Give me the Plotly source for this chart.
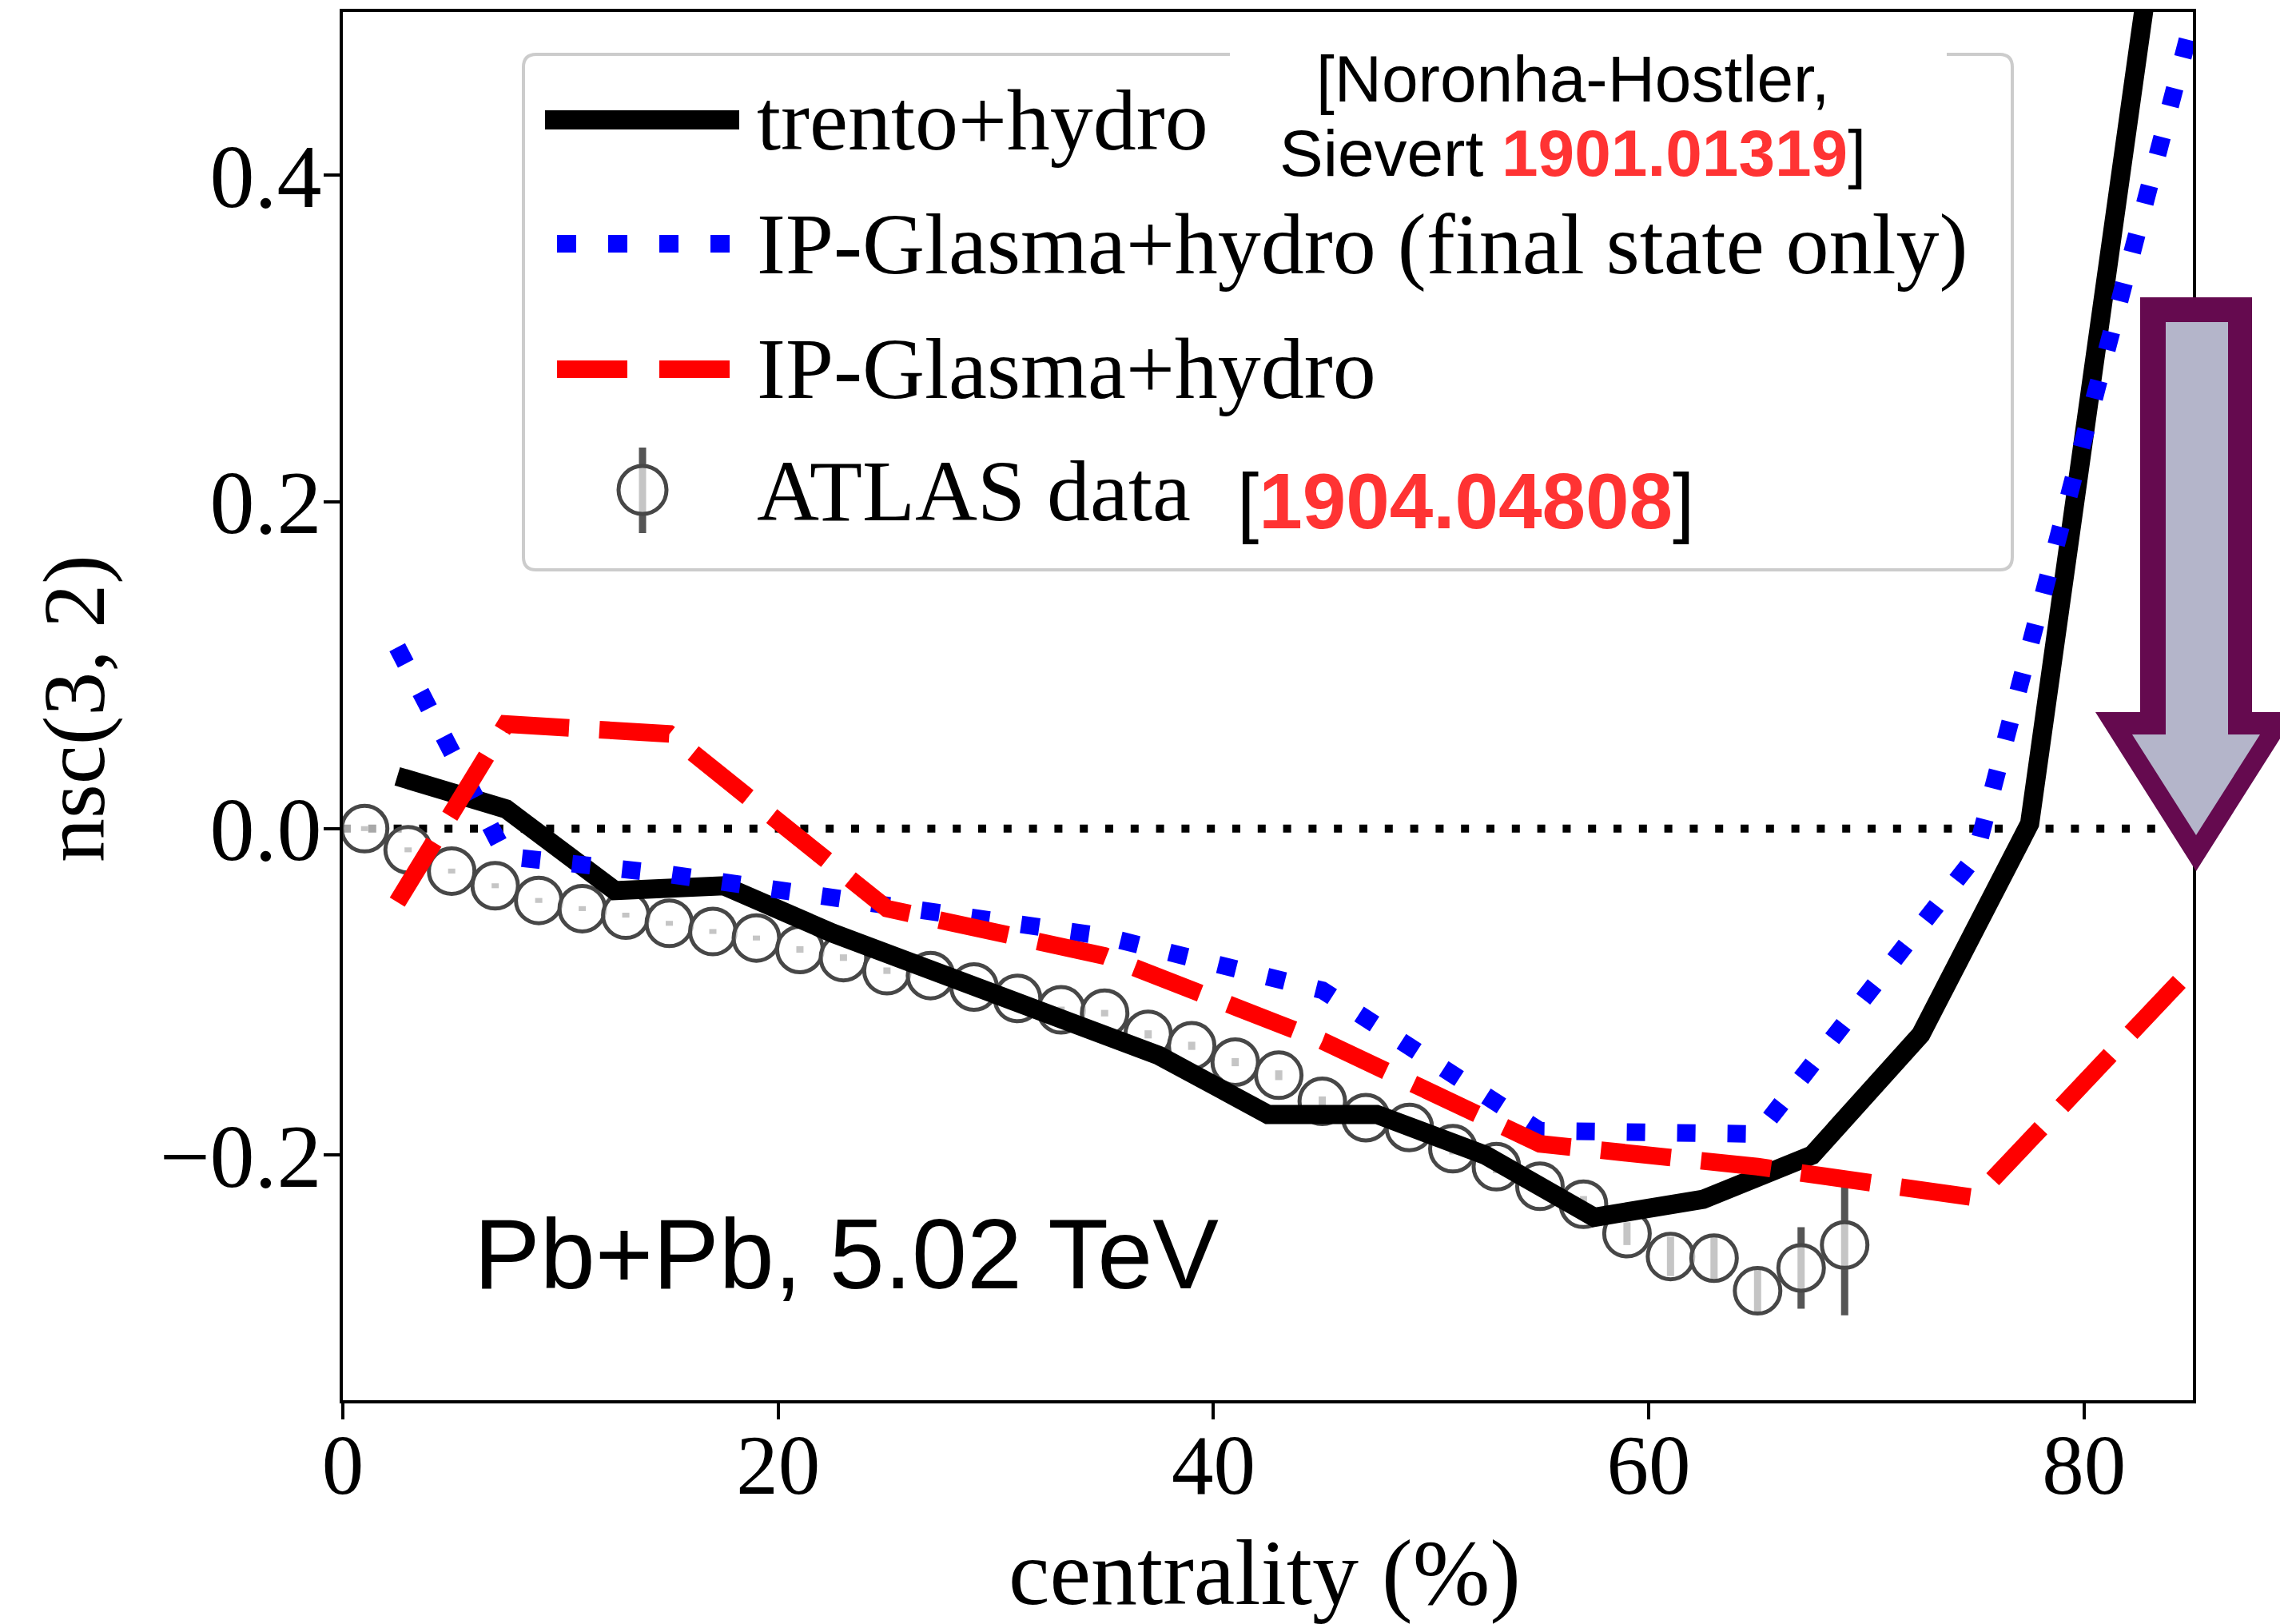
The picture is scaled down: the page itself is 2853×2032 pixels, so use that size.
import plotly.graph_objects as go

# ---------------------------------------------------------------------------
# Data: normalized symmetric cumulant nsc(3,2) vs centrality, Pb+Pb 5.02 TeV
# ---------------------------------------------------------------------------
atlas_cent = [1, 3, 5, 7, 9, 11, 13, 15, 17, 19, 21, 23, 25, 27, 29, 31, 33, 35,
              37, 39, 41, 43, 45, 47, 49, 51, 53, 55, 57, 59, 61, 63, 65, 67, 69]
atlas_nsc = [0.000, -0.013, -0.026, -0.035, -0.044, -0.049, -0.053, -0.058, -0.063,
             -0.067, -0.074, -0.079, -0.087, -0.090, -0.097, -0.104, -0.111, -0.113,
             -0.126, -0.133, -0.143, -0.151, -0.167, -0.177, -0.183, -0.196, -0.207,
             -0.219, -0.230, -0.248, -0.262, -0.263, -0.283, -0.269, -0.255]
atlas_err = [0.0015, 0.0015, 0.0015, 0.0015, 0.0015, 0.0015, 0.0015, 0.0015, 0.0015,
             0.0015, 0.002, 0.002, 0.002, 0.002, 0.002, 0.002, 0.002, 0.002,
             0.0025, 0.0025, 0.0025, 0.003, 0.003, 0.003, 0.003, 0.0035, 0.004,
             0.004, 0.005, 0.007, 0.012, 0.013, 0.014, 0.025, 0.043]

trento_cent = [2.5, 7.5, 12.5, 17.5, 22.5, 27.5, 32.5, 37.5, 42.5, 47.5, 52.5,
               57.5, 62.5, 67.5, 72.5, 77.5, 82.5, 87.5]
trento_nsc = [0.032, 0.012, -0.038, -0.035, -0.064, -0.090, -0.114, -0.139, -0.175,
              -0.175, -0.200, -0.238, -0.227, -0.200, -0.126, 0.003, 0.478, 0.95]

ipg_cent = [2.5, 7.5, 15, 25, 35, 45, 55, 65, 75, 85]
ipg_fs_nsc = [0.111, -0.017, -0.028, -0.047, -0.066, -0.099, -0.185, -0.187, -0.017, 0.496]
ipg_nsc = [-0.045, 0.064, 0.058, -0.049, -0.078, -0.130, -0.193, -0.207, -0.226, -0.085]

x_ticks = [0, 20, 40, 60, 80]
y_ticks = [-0.2, 0.0, 0.2, 0.4]
x_range = [0, 85]
y_range = [-0.35, 0.5]

# ---------------------------------------------------------------------------
# Figure geometry (pixels) and helpers to place decorations in paper coords
# ---------------------------------------------------------------------------
W, H = 2853, 2032
ML, MR, MT, MB = 429, 109, 15, 280
PW = W - ML - MR
PH = H - MT - MB

SERIF = "Liberation Serif"
SANS = "Liberation Sans"
RED_TXT = "#FF3333"


def px(x):
    return (x - ML) / PW


def py(y):
    return (H - MB - y) / PH


def poly_path(points):
    parts = [("M" if i == 0 else "L") + f"{px(x):.5f},{py(y):.5f}"
             for i, (x, y) in enumerate(points)]
    return " ".join(parts) + " Z"


def rounded_rect_path(x0, y0, x1, y1, r):
    def p(x, y):
        return f"{px(x):.5f},{py(y):.5f}"
    return (f"M{p(x0 + r, y0)} L{p(x1 - r, y0)} Q{p(x1, y0)} {p(x1, y0 + r)} "
            f"L{p(x1, y1 - r)} Q{p(x1, y1)} {p(x1 - r, y1)} "
            f"L{p(x0 + r, y1)} Q{p(x0, y1)} {p(x0, y1 - r)} "
            f"L{p(x0, y0 + r)} Q{p(x0, y0)} {p(x0 + r, y0)} Z")


fig = go.Figure()

# ATLAS points: open circles with vertical error bars
fig.add_trace(go.Scatter(
    x=atlas_cent, y=atlas_nsc, mode="markers", name="ATLAS data",
    marker=dict(symbol="circle", size=57, color="rgba(255,255,255,0.66)",
                line=dict(color="#474747", width=5)),
    error_y=dict(type="data", array=atlas_err, color="#555555", thickness=9, width=0),
))

# model curves
fig.add_trace(go.Scatter(
    x=trento_cent, y=trento_nsc, mode="lines", name="trento+hydro",
    line=dict(color="black", width=24),
))
fig.add_trace(go.Scatter(
    x=ipg_cent, y=ipg_fs_nsc, mode="lines", name="IP-Glasma+hydro (final state only)",
    line=dict(color="#0000FF", width=22, dash="23px,40px"),
))
fig.add_trace(go.Scatter(
    x=ipg_cent, y=ipg_nsc, mode="lines", name="IP-Glasma+hydro",
    line=dict(color="#FF0000", width=22, dash="88px,38px"),
))

shapes = []
# dotted zero reference line
shapes.append(dict(type="line", xref="paper", yref="y", x0=0, x1=1, y0=0, y1=0,
                   layer="below", line=dict(color="black", width=10, dash="10px,21.8px")))

# legend frame
shapes.append(dict(type="path", xref="paper", yref="paper",
                   path=rounded_rect_path(655, 68, 2518, 713, 16),
                   fillcolor="rgba(255,255,255,0.8)", line=dict(color="#cccccc", width=4)))
# white patch behind the citation text
shapes.append(dict(type="rect", xref="paper", yref="paper",
                   x0=px(1539), x1=px(2436), y0=py(95), y1=py(40),
                   fillcolor="white", line=dict(width=0)))

# legend line samples
shapes.append(dict(type="line", xref="paper", yref="paper",
                   x0=px(682), x1=px(925), y0=py(150), y1=py(150),
                   line=dict(color="black", width=24)))
shapes.append(dict(type="line", xref="paper", yref="paper",
                   x0=px(697), x1=px(913), y0=py(305), y1=py(305),
                   line=dict(color="#0000FF", width=22, dash="24px,40px")))
shapes.append(dict(type="line", xref="paper", yref="paper",
                   x0=px(697), x1=px(913), y0=py(462), y1=py(462),
                   line=dict(color="#FF0000", width=22, dash="88px,40px")))
# legend marker sample
shapes.append(dict(type="line", xref="paper", yref="paper",
                   x0=px(804), x1=px(804), y0=py(560), y1=py(667),
                   line=dict(color="#555555", width=9)))
shapes.append(dict(type="circle", xref="paper", yref="paper",
                   x0=px(774), x1=px(834), y0=py(643), y1=py(583),
                   fillcolor="rgba(255,255,255,0.66)", line=dict(color="#474747", width=5)))

# downward arrow at the right edge
arrow_outer = [(2678, 372), (2818, 372), (2818, 891), (2874, 891),
               (2748, 1090), (2622, 891), (2678, 891)]
arrow_inner = [(2710, 403), (2788, 403), (2788, 919), (2828, 919),
               (2748, 1045), (2668, 919), (2710, 919)]
shapes.append(dict(type="path", xref="paper", yref="paper", path=poly_path(arrow_outer),
                   fillcolor="#650A4F", line=dict(width=0)))
shapes.append(dict(type="path", xref="paper", yref="paper", path=poly_path(arrow_inner),
                   fillcolor="#B4B5CA", line=dict(width=0)))

annotations = []


def add_text(text, x, y, size, family, xanchor="left", angle=0, color="black"):
    annotations.append(dict(
        text=text, x=px(x), y=py(y), xref="paper", yref="paper",
        xanchor=xanchor, yanchor="middle", showarrow=False, textangle=angle,
        font=dict(family=family, size=size, color=color),
    ))


# legend labels
add_text("trento+hydro", 945, 151, 108, SERIF)
add_text("IP-Glasma+hydro (final state only)", 945, 306, 108, SERIF)
add_text("IP-Glasma+hydro", 945, 461, 108, SERIF)
add_text("ATLAS data", 945, 614, 108, SERIF)

# references
add_text("[Noronha-Hostler,", 1968, 98, 82, SANS, xanchor="center")
add_text(f"Sievert <b><span style='color:{RED_TXT}'>1901.01319</span></b>]",
         1968, 191, 82, SANS, xanchor="center")
add_text(f"[<b><span style='color:{RED_TXT}'>1904.04808</span></b>]", 1546, 627, 98, SANS)

# system label
add_text("Pb+Pb, 5.02 TeV", 591, 1569, 124, SANS)

# axis titles
add_text("nsc(3, 2)", 93, 887, 110, SERIF, xanchor="center", angle=-90)
add_text("centrality (%)", 1582, 1968, 116, SERIF, xanchor="center")

axis_common = dict(
    showline=True, linecolor="black", linewidth=4, mirror=True,
    ticks="outside", ticklen=20, tickwidth=3.5, tickcolor="black",
    showgrid=False, zeroline=False,
)

fig.update_xaxes(range=x_range, tickvals=x_ticks, ticklabelstandoff=-33,
                 tickfont=dict(family=SERIF, size=105, color="black"), **axis_common)
fig.update_yaxes(range=y_range, tickvals=y_ticks, tickformat=".1f",
                 ticklabelstandoff=-20,
                 tickfont=dict(family=SERIF, size=112, color="black"), **axis_common)

fig.update_layout(
    width=W, height=H,
    margin=dict(l=ML, r=MR, t=MT, b=MB, pad=0),
    paper_bgcolor="white", plot_bgcolor="white",
    showlegend=False,
    shapes=shapes,
    annotations=annotations,
)

fig.write_html("out.html")
